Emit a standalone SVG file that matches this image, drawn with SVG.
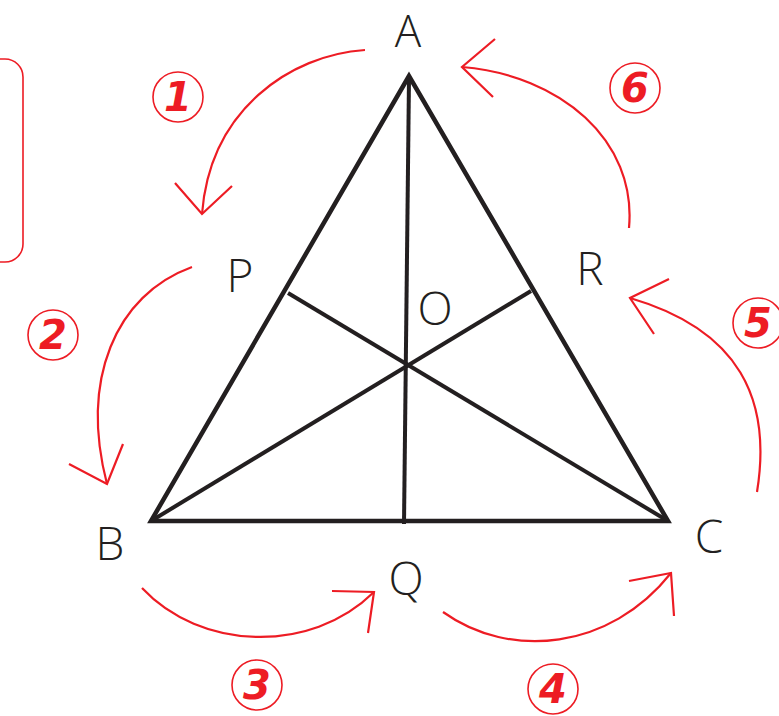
<svg xmlns="http://www.w3.org/2000/svg" width="779" height="716" viewBox="0 0 779 716">
<style>
.tri{fill:none;stroke:#231f20;stroke-width:4.5;stroke-linejoin:miter;stroke-linecap:butt}
.ln{stroke:#231f20;stroke-width:4;fill:none}
.lbl{font-family:"Open Sans","Noto Sans",sans-serif;font-weight:300;font-size:46px;fill:#231f20;text-anchor:middle}
.arr{fill:none;stroke:#ed1c24;stroke-width:2.2;stroke-linecap:butt;stroke-linejoin:miter}
.circ{fill:none;stroke:#ed1c24;stroke-width:1.6}
.num{font-family:"DejaVu Sans",sans-serif;font-weight:900;font-style:italic;font-size:40px;fill:#ed1c24;text-anchor:middle}
</style>
<rect x="-40" y="59" width="63" height="203" rx="18" ry="18" fill="none" stroke="#ed1c24" stroke-width="1.6"/>
<g id="triangle">
<polygon class="tri" points="409,76 151,521 668,521"/>
<line class="ln" x1="409" y1="78" x2="404" y2="524"/>
<line class="ln" x1="151" y1="521" x2="531" y2="291"/>
<line class="ln" x1="668" y1="521" x2="288" y2="293"/>
</g>
<g id="labels">
<text class="lbl" x="408" y="47" style="font-size:44px">A</text>
<text class="lbl" x="110" y="560">B</text>
<text class="lbl" x="709" y="553">C</text>
<text class="lbl" x="240" y="292">P</text>
<text class="lbl" x="590" y="285">R</text>
<text class="lbl" x="435" y="325">O</text>
<text class="lbl" x="406" y="595">Q</text>
</g>
<g id="connectors">
<path class="arr" d="M365,50 C290,55 210,110 202,214"/>
<path class="arr" d="M175,183 L202,214 L232,186"/>
<path class="arr" d="M192,267 C115,295 80,380 107,484"/>
<path class="arr" d="M69,464 L107,484 L123,444"/>
<path class="arr" d="M142,588 C200,650 310,655 374,592"/>
<path class="arr" d="M332,591 L374,592 L368,633"/>
<path class="arr" d="M443,612 C510,660 610,650 671,573"/>
<path class="arr" d="M629,581 L671,573 L674,616"/>
<path class="arr" d="M757,492 C772,400 740,330 630,298"/>
<path class="arr" d="M669,279 L630,298 L654,334"/>
<path class="arr" d="M629,228 C637,140 560,75 462,67"/>
<path class="arr" d="M495,39 L462,67 L493,97"/>
</g>
<g id="steps">
<circle class="circ" cx="178" cy="97" r="25"/><text class="num" x="178" y="111">1</text>
<circle class="circ" cx="53" cy="335" r="25"/><text class="num" x="53" y="349">2</text>
<circle class="circ" cx="257" cy="685" r="25"/><text class="num" x="257" y="699">3</text>
<circle class="circ" cx="553" cy="689" r="25"/><text class="num" x="553" y="703">4</text>
<circle class="circ" cx="758" cy="323" r="25"/><text class="num" x="758" y="337">5</text>
<circle class="circ" cx="635" cy="88" r="25"/><text class="num" x="635" y="102">6</text>
</g>
</svg>
